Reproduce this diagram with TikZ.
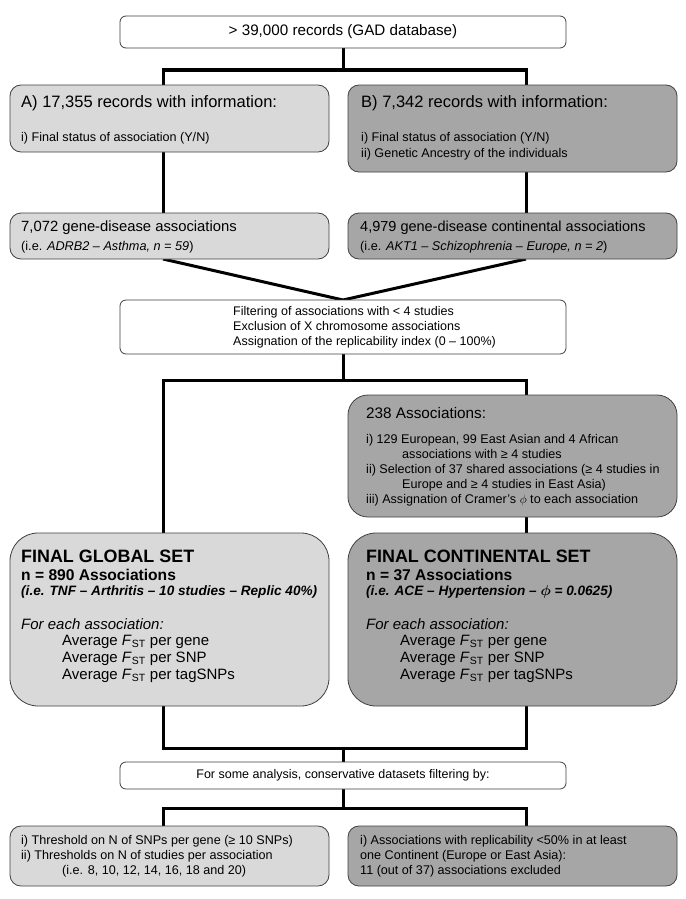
\documentclass[tikz,border=0pt]{standalone}
\usepackage{amsmath}
\usepackage{fontspec}
\setmainfont{Liberation Sans}
\usetikzlibrary{positioning,backgrounds}
\definecolor{gad-light}{RGB}{217,217,217}
\definecolor{gad-dark}{RGB}{166,166,166}
\definecolor{gad-edge}{RGB}{64,64,64}
\newcommand{\fs}[2]{\fontsize{#1}{#2}\selectfont}
\newcommand{\fst}{\textit{F}\textsubscript{ST}}

\begin{document}
\begin{tikzpicture}[x=1pt, y=-1pt,
    whitebox/.style = {rectangle, rounded corners=6pt, draw=gad-edge,
                       line width=0.8pt, fill=white, inner sep=0pt,
                       outer sep=0pt, anchor=north west},
    lightbox/.style = {whitebox, fill=gad-light, rounded corners=11pt},
    darkbox/.style  = {whitebox, fill=gad-dark, rounded corners=11pt},
    txt/.style      = {inner sep=0pt, anchor=west, align=left},
    link/.style     = {line width=3pt, black}
  ]
    \useasboundingbox (0,0) rectangle (685,899);
    \coordinate (colL) at (163,0);
    \coordinate (colR) at (526,0);

    %% ---- GAD records ----
    \node[whitebox, minimum width=446, minimum height=32, font=\fs{15.2}{18}]
      (gad) at (120,16) {> 39,000 records (GAD database)};

    %% ---- A / B: records with information ----
    \node[lightbox, minimum width=319, minimum height=67] (recA) at (10,85) {};
    \node[darkbox, minimum width=329, minimum height=87] (recB) at (348,85) {};
    \node[txt, font=\fs{16.5}{19}] (recAhead) at (21,103)
      {A) 17,355 records with information:};
    \node[txt, font=\fs{12.6}{15}] (recAitem) at (21,138)
      {i) Final status of association (Y/N)};
    \node[txt, font=\fs{16.5}{19}] (recBhead) at (361,103)
      {B) 7,342 records with information:};
    \node[txt, font=\fs{12.6}{16}] (recBitem) at (361,146)
      {i) Final status of association (Y/N)\\ii) Genetic Ancestry of the individuals};

    %% ---- gene-disease associations ----
    \node[lightbox, minimum width=319, minimum height=46] (assocA) at (10,213) {};
    \node[darkbox, minimum width=329, minimum height=46] (assocB) at (348,213) {};
    \node[txt, font=\fs{14.8}{18}] (assocAhead) at (21,228)
      {7,072 gene-disease associations};
    \node[txt, font=\fs{12.7}{15}] (assocAsub) at (21,247)
      {(i.e. \textit{ADRB2 – Asthma, n = 59})};
    \node[txt, font=\fs{14.5}{18}] (assocBhead) at (360,228)
      {4,979 gene-disease continental associations};
    \node[txt, font=\fs{12.7}{15}] (assocBsub) at (360,247)
      {(i.e. \textit{AKT1 – Schizophrenia – Europe, n = 2})};

    %% ---- filtering step ----
    \node[whitebox, minimum width=446, minimum height=54] (filter) at (120,300) {};
    \node[txt, font=\fs{12.5}{15}] (filtertext) at (233,327)
      {Filtering of associations with < 4 studies\\
       Exclusion of X chromosome associations\\
       Assignation of the replicability index (0 – 100\%)};

    %% ---- 238 associations (continental branch) ----
    \node[darkbox, rounded corners=20pt, minimum width=329, minimum height=122]
      (shared) at (348,395) {};
    \node[txt, font=\fs{15.3}{18}] (sharedhead) at (366,413) {238 Associations:};
    \node[txt, font=\fs{12.6}{15}] (shareditem) at (366,470)
      {i) 129 European, 99 East Asian and 4 African\\
       \hspace*{36pt}associations with ≥ 4 studies\\
       ii) Selection of 37 shared associations (≥ 4 studies in\\
       \hspace*{36pt}Europe and ≥ 4 studies in East Asia)\\
       iii) Assignation of Cramer's $\phi$ to each association};

    %% ---- final sets ----
    \node[lightbox, rounded corners=28pt, minimum width=319, minimum height=173]
      (global) at (10,533) {};
    \node[darkbox, rounded corners=28pt, minimum width=329, minimum height=173]
      (continental) at (348,533) {};
    \node[txt, font=\bfseries\fs{17.9}{21}] at (21,556) {FINAL GLOBAL SET};
    \node[txt, font=\bfseries\fs{15.6}{18}] at (21,575) {n = 890 Associations};
    \node[txt, font=\bfseries\itshape\fs{13.6}{16}] at (21,592)
      {(i.e. TNF – Arthritis – 10 studies – Replic 40\%)};
    \node[txt, font=\itshape\fs{15}{17}] at (21,624) {For each association:};
    \node[txt, font=\fs{15}{17}] at (62,659)
      {Average \fst{} per gene\\Average \fst{} per SNP\\Average \fst{} per tagSNPs};
    \node[txt, font=\bfseries\fs{17.9}{21}] at (366,556) {FINAL CONTINENTAL SET};
    \node[txt, font=\bfseries\fs{15.6}{18}] at (366,575) {n = 37 Associations};
    \node[txt, font=\bfseries\itshape\fs{13.6}{16}] at (366,592)
      {(i.e. ACE – Hypertension – $\boldsymbol{\phi}$ = 0.0625)};
    \node[txt, font=\itshape\fs{15}{17}] at (366,624) {For each association:};
    \node[txt, font=\fs{15}{17}] at (400,659)
      {Average \fst{} per gene\\Average \fst{} per SNP\\Average \fst{} per tagSNPs};

    %% ---- conservative datasets ----
    \node[whitebox, minimum width=446, minimum height=27, font=\fs{12.5}{15}]
      (conserv) at (120,762) {For some analysis, conservative datasets filtering by:};
    \node[lightbox, minimum width=319, minimum height=60] (consA) at (10,826) {};
    \node[darkbox, minimum width=329, minimum height=60] (consB) at (348,826) {};
    \node[txt, font=\fs{12.6}{15}] (consAtext) at (21,856)
      {i) Threshold on N of SNPs per gene (≥ 10 SNPs)\\
       ii) Thresholds on N of studies per association\\
       \hspace*{41pt}(i.e. 8, 10, 12, 14, 16, 18 and 20)};
    \node[txt, font=\fs{12.6}{15}] (consBtext) at (360,856)
      {i) Associations with replicability <50\% in at least\\
       one Continent (Europe or East Asia):\\
       11 (out of 37) associations excluded};

    %% ---- connectors, kept behind the boxes ----
    \begin{scope}[on background layer]
      \fill[white] (0,0) rectangle (685,899);
      \coordinate (split1) at (343,70);
      \draw[link] (gad.south) -- (split1);
      \draw[link] (recA.north -| colL) |- (split1) -| (recB.north -| colR);
      \draw[link] (recA.south -| colL) -- (assocA.north -| colL);
      \draw[link] (recB.south -| colR) -- (assocB.north -| colR);
      \draw[link] (assocA.south -| colL) -- (filter.north)
        -- (assocB.south -| colR);
      \coordinate (split2) at (343,380);
      \draw[link] (filter.south) -- (split2);
      \draw[link] (global.north -| colL) |- (split2) -| (shared.north -| colR);
      \draw[link] (shared.south -| colR) -- (continental.north -| colR);
      \coordinate (merge) at (343,748);
      \draw[link] (global.south -| colL) |- (merge)
        -| (continental.south -| colR);
      \draw[link] (merge) -- (conserv.north);
      \coordinate (split3) at (343,808);
      \draw[link] (conserv.south) -- (split3);
      \draw[link] (consA.north -| colL) |- (split3) -| (consB.north -| colR);
    \end{scope}
\end{tikzpicture}
\end{document}
